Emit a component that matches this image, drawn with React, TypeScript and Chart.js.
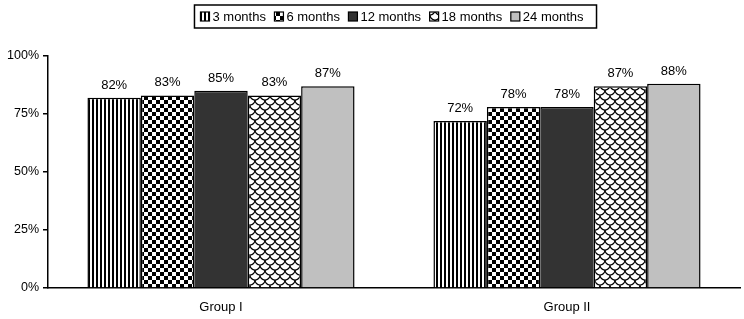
import React, { useEffect, useRef } from 'react';
import { Chart, registerables } from 'chart.js';

Chart.register(...registerables);

const categories = ['Group I', 'Group II'];
const seriesNames = ['3 months', '6 months', '12 months', '18 months', '24 months'];
const months3 = [82, 72];
const months6 = [83, 78];
const months12 = [85, 78];
const months18 = [83, 87];
const months24 = [87, 88];
const yTicks = [0, 25, 50, 75, 100];

const FONT = '"Liberation Sans", Arial, sans-serif';

function makePattern(kind: string): CanvasPattern | string {
  if (kind === 'dark') return '#333333';
  if (kind === 'light') return '#c0c0c0';
  const c = document.createElement('canvas');
  const ctx = c.getContext('2d')!;
  if (kind === 'stripes') {
    c.width = 4; c.height = 4;
    ctx.fillStyle = '#fff'; ctx.fillRect(0, 0, 4, 4);
    ctx.fillStyle = '#000'; ctx.fillRect(0, 0, 2, 4);
  } else if (kind === 'checker') {
    c.width = 8; c.height = 8;
    ctx.fillStyle = '#fff'; ctx.fillRect(0, 0, 8, 8);
    ctx.fillStyle = '#000';
    ctx.fillRect(0, 0, 4, 4); ctx.fillRect(4, 4, 4, 4);
  } else if (kind === 'scales') {
    c.width = 10; c.height = 10;
    ctx.fillStyle = '#fff'; ctx.fillRect(0, 0, 10, 10);
    ctx.strokeStyle = '#000'; ctx.lineWidth = 1.2;
    const arcs = [[0, 0], [10, 0], [5, 5], [0, 10], [10, 10], [5, -5]];
    for (const [x, y] of arcs) {
      ctx.beginPath();
      ctx.arc(x, y, 5, 0, Math.PI);
      ctx.stroke();
    }
  }
  return (document.createElement('canvas').getContext('2d') as CanvasRenderingContext2D).createPattern(c, 'repeat')!;
}

const patternKinds = ['stripes', 'checker', 'dark', 'scales', 'light'];

const valueLabels = {
  id: 'valueLabels',
  afterDatasetsDraw(chart: any) {
    const ctx = chart.ctx;
    ctx.save();
    ctx.font = `13px ${FONT}`;
    ctx.fillStyle = '#000';
    ctx.textAlign = 'center';
    ctx.textBaseline = 'alphabetic';
    chart.data.datasets.forEach((ds: any, i: number) => {
      const meta = chart.getDatasetMeta(i);
      meta.data.forEach((el: any, j: number) => {
        ctx.fillText(ds.data[j] + '%', el.x, el.y - 9);
      });
    });
    ctx.restore();
  },
};

const boxedLegend = {
  id: 'boxedLegend',
  afterDraw(chart: any) {
    const ctx = chart.ctx;
    ctx.save();
    ctx.font = `13px ${FONT}`;
    const icon = 9, gapIT = 3, gapItems = 8.5, padL = 6, padR = 13;
    const widths = chart.data.datasets.map((d: any) => ctx.measureText(d.label).width);
    let total = padL + padR;
    widths.forEach((w: number, i: number) => {
      total += icon + gapIT + w + (i < widths.length - 1 ? gapItems : 0);
    });
    const cx = (chart.chartArea.left + chart.chartArea.right) / 2 + 1.5;
    const left = cx - total / 2;
    const top = 5, h = 23;
    ctx.lineWidth = 1.5;
    ctx.strokeStyle = '#000';
    ctx.strokeRect(left, top, total, h);
    const cy = top + h / 2;
    let x = left + padL;
    ctx.textBaseline = 'middle';
    ctx.textAlign = 'left';
    chart.data.datasets.forEach((d: any, i: number) => {
      ctx.fillStyle = d.backgroundColor;
      ctx.fillRect(x, cy - icon / 2, icon, icon);
      ctx.lineWidth = 1.2;
      ctx.strokeRect(x, cy - icon / 2, icon, icon);
      ctx.fillStyle = '#000';
      ctx.fillText(d.label, x + icon + gapIT, cy + 1);
      x += icon + gapIT + widths[i] + gapItems;
    });
    ctx.restore();
  },
};

export default function App() {
  const ref = useRef<HTMLCanvasElement>(null);
  useEffect(() => {
    if (!ref.current) return;
    const series = [months3, months6, months12, months18, months24];
    const chart = new Chart(ref.current, {
      type: 'bar',
      data: {
        labels: categories,
        datasets: series.map((s, i) => ({
          label: seriesNames[i],
          data: s,
          backgroundColor: makePattern(patternKinds[i]) as any,
          borderColor: '#000',
          borderWidth: 1.5,
          categoryPercentage: 0.772,
          barPercentage: 1,
        })),
      },
      options: {
        animation: false,
        responsive: false,
        layout: { padding: { top: 56, right: 4, left: 0, bottom: 0 } },
        plugins: { legend: { display: false }, tooltip: { enabled: false } },
        font: { family: FONT },
        scales: {
          x: {
            grid: { display: false, drawTicks: false },
            border: { display: true, color: '#000', width: 1.5 },
            ticks: { color: '#000', font: { family: FONT, size: 13 }, padding: 12 },
            afterFit: (s: any) => { s.height = 31; },
          },
          y: {
            min: 0,
            max: 100,
            afterBuildTicks: (s: any) => { s.ticks = yTicks.map((v) => ({ value: v })); },
            grid: { drawOnChartArea: false, drawTicks: true, tickLength: 5, color: '#000', lineWidth: 1.5 },
            border: { display: true, color: '#000', width: 1.5 },
            ticks: { color: '#000', font: { family: FONT, size: 12.5 }, padding: 4, callback: (v: any) => v + '%' },
            afterFit: (s: any) => { s.width = 48; },
          },
        },
      } as any,
      plugins: [valueLabels, boxedLegend],
    });
    return () => chart.destroy();
  }, []);
  return (
    <div style={{ position: 'absolute', left: 0, top: 0, width: 744, height: 319, background: '#fff' }}>
      <canvas ref={ref} width={744} height={319} style={{ display: 'block' }} />
    </div>
  );
}
